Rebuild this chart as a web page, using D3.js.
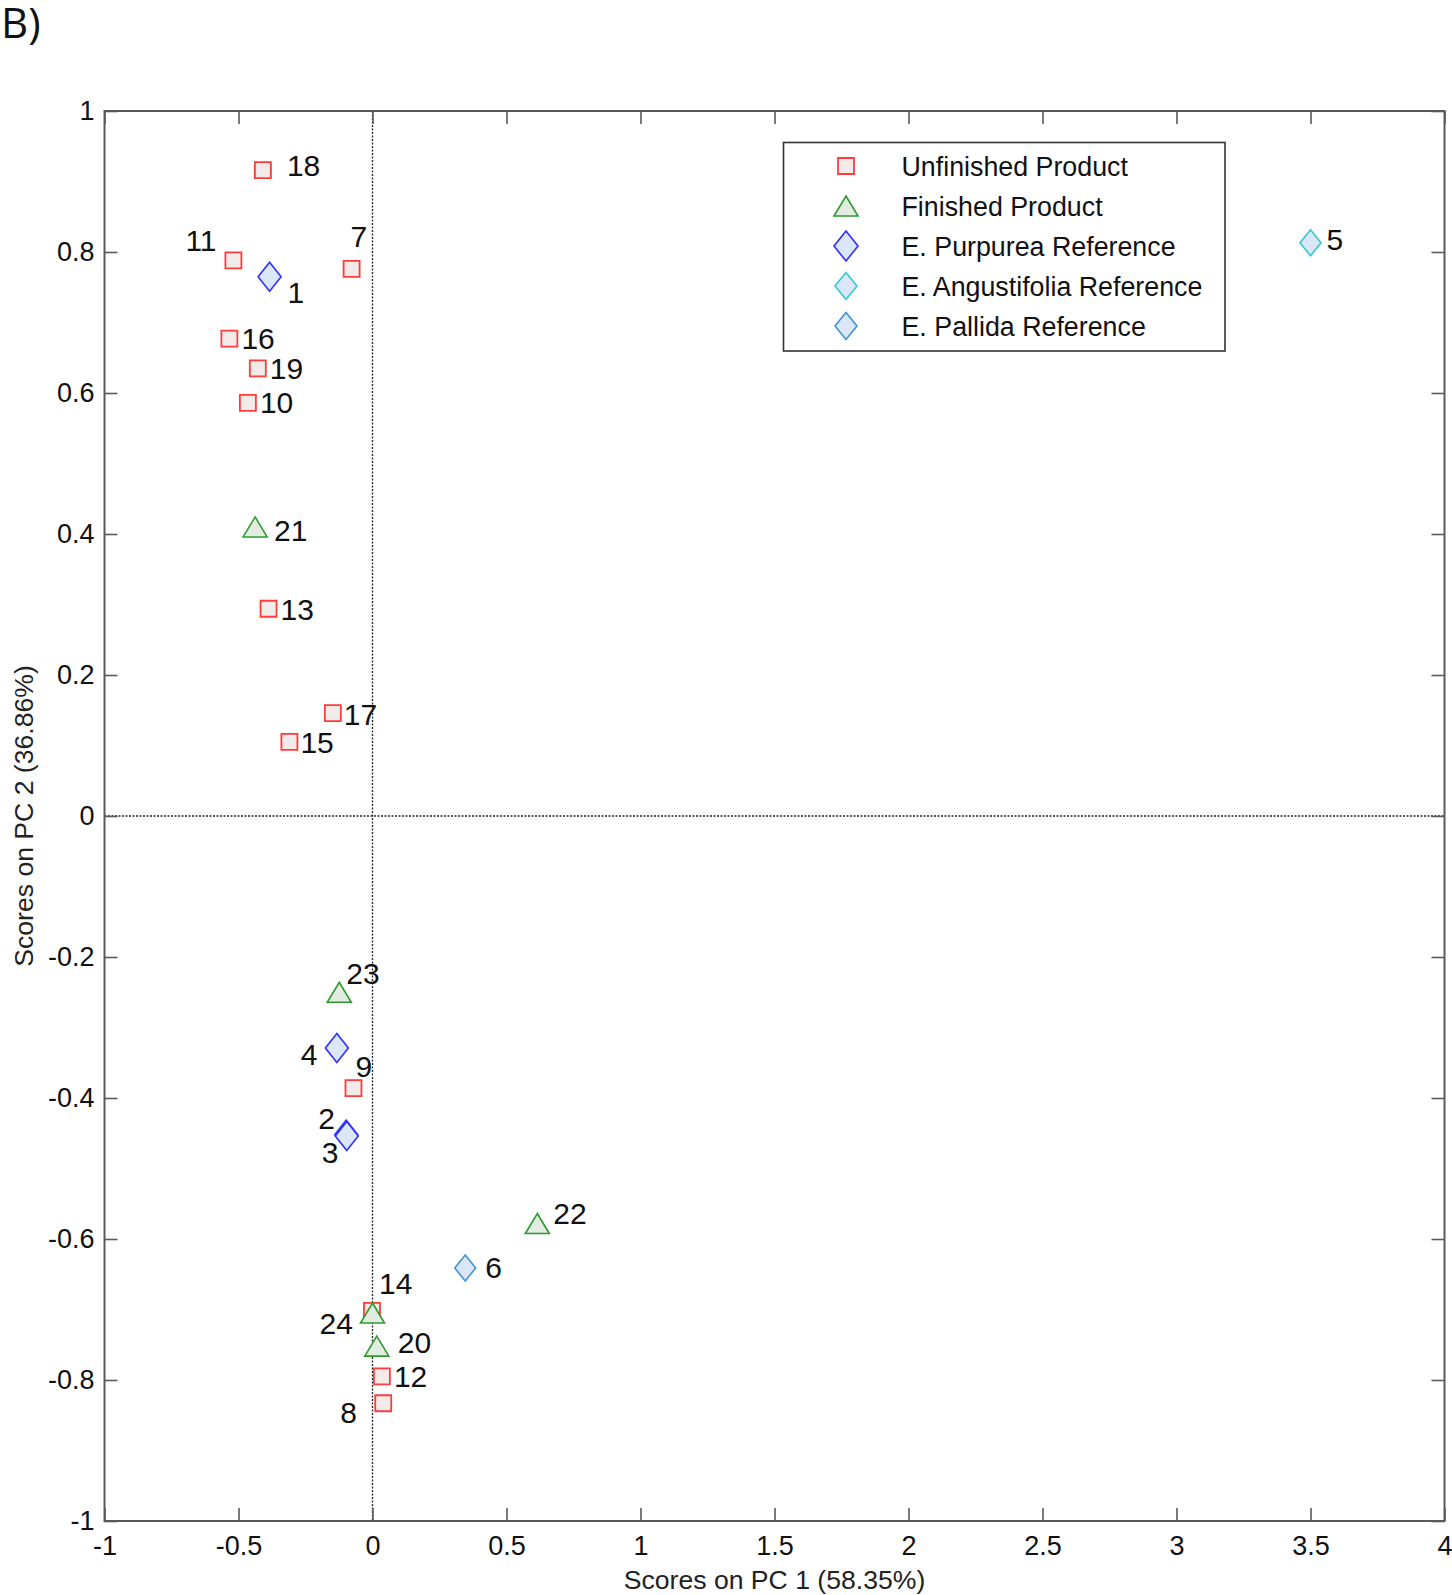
<!DOCTYPE html>
<html>
<head>
<meta charset="utf-8">
<script src="https://cdn.jsdelivr.net/npm/d3@7"></script>
<style>
  html, body { margin: 0; padding: 0; background: #fff; }
  svg { display: block; font-family: "Liberation Sans", Arial, Helvetica, sans-serif; }
</style>
</head>
<body>
<svg id="chart" width="1452" height="1595"></svg>
<script>
// ---------------- data ----------------
const sampleIds = [1, 2, 3, 4, 5, 6, 7, 8, 9, 10, 11, 12, 13, 14, 15, 16, 17, 18, 19, 20, 21, 22, 23, 24];
const pc1Scores = [-0.384, -0.098, -0.096, -0.133, 3.500, 0.346, -0.078, 0.040, -0.071, -0.465, -0.519, 0.035,
                   -0.388, -0.002, -0.310, -0.534, -0.148, -0.409, -0.428, 0.016, -0.438, 0.615, -0.124, 0.000];
const pc2Scores = [0.765, -0.452, -0.454, -0.329, 0.813, -0.641, 0.776, -0.833, -0.386, 0.586, 0.788, -0.795,
                   0.294, -0.702, 0.105, 0.677, 0.146, 0.916, 0.635, -0.752, 0.410, -0.578, -0.250, -0.705];
const sampleGroups = ["purp", "purp", "purp", "purp", "ang", "pal", "unf", "unf", "unf", "unf", "unf", "unf",
                      "unf", "unf", "unf", "unf", "unf", "unf", "unf", "fin", "fin", "fin", "fin", "fin"];
const groupKeys = ["unf", "fin", "purp", "ang", "pal"];
const groupNames = ["Unfinished Product", "Finished Product", "E. Purpurea Reference",
                    "E. Angustifolia Reference", "E. Pallida Reference"];
const xTickValues = [-1, -0.5, 0, 0.5, 1, 1.5, 2, 2.5, 3, 3.5, 4];
const yTickValues = [-1, -0.8, -0.6, -0.4, -0.2, 0, 0.2, 0.4, 0.6, 0.8, 1];
const xTitle = "Scores on PC 1 (58.35%)";
const yTitle = "Scores on PC 2 (36.86%)";
const panelLetter = "B)";

// ---------------- layout / style ----------------
// label offsets (px) relative to each marker, by sample id
const labelOffset = {
  1: [18, 26], 2: [-28, -6], 3: [-25, 27], 4: [-36, 17], 5: [16, 7], 6: [20, 10],
  7: [-1, -22], 8: [-43, 20], 9: [2, -11], 10: [12, 10], 11: [-48, -9], 12: [12, 11],
  13: [12, 11], 14: [7, -17], 15: [11, 11], 16: [12, 10], 17: [11, 12], 18: [24, 6],
  19: [12, 11], 20: [21, 7], 21: [19, 14], 22: [16, 1], 23: [7, -8], 24: [-53, 21]
};
const styles = {
  unf:  { shape: "square",   stroke: "#ff3b3b", fill: "#f3eaea", w: 16, h: 16, sw: 1.8 },
  fin:  { shape: "triangle", stroke: "#2e9a2e", fill: "#e2ece2", w: 24, h: 20, sw: 1.6 },
  purp: { shape: "diamond",  stroke: "#2f2fff", fill: "#dbe6f7", w: 23, h: 29, sw: 1.6 },
  ang:  { shape: "diamond",  stroke: "#35c9d2", fill: "#dbe6f7", w: 21, h: 26, sw: 1.6 },
  pal:  { shape: "diamond",  stroke: "#3f94da", fill: "#dbe6f7", w: 21, h: 26, sw: 1.6 }
};
function shapePath(s) {
  const w = s.w / 2, h = s.h / 2;
  if (s.shape === "square") return `M${-w},${-h}H${w}V${h}H${-w}Z`;
  if (s.shape === "triangle") return `M0,${-h}L${w},${h}L${-w},${h}Z`;
  return `M0,${-h}L${w},0L0,${h}L${-w},0Z`;
}

const svg = d3.select("#chart");
const L = 104.5, R = 1444.5, T = 111, B = 1521;
const x = d3.scaleLinear().domain([-1, 4]).range([L, R]);
const y = d3.scaleLinear().domain([-1, 1]).range([B, T]);
const fmt = d => String(d);
const axisColor = "#5a5a5a";

// panel letter
svg.append("text").attr("x", 1).attr("y", 38)
  .attr("font-family", "'Open Sans', 'Noto Sans', sans-serif")
  .attr("font-size", 42).attr("fill", "#111").text(panelLetter);

// zero lines
svg.append("line").attr("x1", x(0)).attr("x2", x(0)).attr("y1", T).attr("y2", B)
  .attr("stroke", "#222").attr("stroke-width", 1.3).attr("stroke-dasharray", "2,1.5");
svg.append("line").attr("x1", L).attr("x2", R).attr("y1", y(0)).attr("y2", y(0))
  .attr("stroke", "#222").attr("stroke-width", 1.3).attr("stroke-dasharray", "2,1.5");

// axes
function styleAxis(g) {
  g.select(".domain").remove();
  g.selectAll(".tick line").attr("stroke", axisColor).attr("stroke-width", 1.6);
  g.selectAll(".tick text").attr("fill", "#111").attr("font-size", 27)
    .attr("font-family", "'Liberation Sans', Arial, sans-serif");
}
svg.append("g").attr("transform", `translate(0,${B})`)
  .call(d3.axisBottom(x).tickValues(xTickValues).tickFormat(fmt).tickSizeInner(-13).tickSizeOuter(0).tickPadding(15))
  .call(styleAxis);
svg.append("g").attr("transform", `translate(0,${T})`)
  .call(d3.axisTop(x).tickValues(xTickValues).tickFormat("").tickSizeInner(-13).tickSizeOuter(0))
  .call(styleAxis);
svg.append("g").attr("transform", `translate(${L},0)`)
  .call(d3.axisLeft(y).tickValues(yTickValues).tickFormat(fmt).tickSizeInner(-13).tickSizeOuter(0).tickPadding(10))
  .call(styleAxis);
svg.append("g").attr("transform", `translate(${R},0)`)
  .call(d3.axisRight(y).tickValues(yTickValues).tickFormat("").tickSizeInner(-13).tickSizeOuter(0))
  .call(styleAxis);

// frame
svg.append("rect").attr("x", L).attr("y", T).attr("width", R - L).attr("height", B - T)
  .attr("fill", "none").attr("stroke", axisColor).attr("stroke-width", 2);

// axis titles
svg.append("text").attr("x", (L + R) / 2).attr("y", 1589).attr("text-anchor", "middle")
  .attr("font-size", 26.6).attr("fill", "#222").text(xTitle);
svg.append("text").attr("transform", `translate(33,${(T + B) / 2}) rotate(-90)`).attr("text-anchor", "middle")
  .attr("font-size", 26.6).attr("fill", "#222").text(yTitle);

// points, drawn group by group
const points = sampleIds.map((id, i) => ({ id, px: pc1Scores[i], py: pc2Scores[i], g: sampleGroups[i] }));
groupKeys.forEach(k => {
  const s = styles[k];
  svg.append("g").selectAll("path").data(points.filter(p => p.g === k)).join("path")
    .attr("transform", d => `translate(${x(d.px)},${y(d.py)})`)
    .attr("d", shapePath(s)).attr("fill", s.fill).attr("stroke", s.stroke).attr("stroke-width", s.sw);
});

// point labels
svg.append("g").selectAll("text").data(points).join("text")
  .attr("x", d => x(d.px) + labelOffset[d.id][0])
  .attr("y", d => y(d.py) + labelOffset[d.id][1])
  .attr("font-size", 30).attr("fill", "#111").text(d => d.id);

// legend
const lg = svg.append("g");
lg.append("rect").attr("x", 783.5).attr("y", 142.5).attr("width", 441.5).attr("height", 208.5)
  .attr("fill", "#fff").attr("stroke", "#333").attr("stroke-width", 1.6);
const legendY = d3.scalePoint().domain(groupKeys).range([166, 326]);
groupKeys.forEach((k, i) => {
  const s = styles[k];
  const ls = Object.assign({}, s, k === "ang" || k === "pal" ? { w: 22, h: 27 } : (k === "purp" ? { w: 24, h: 30 } : {}));
  lg.append("path").attr("transform", `translate(846,${legendY(k)})`)
    .attr("d", shapePath(ls)).attr("fill", s.fill).attr("stroke", s.stroke).attr("stroke-width", s.sw);
  lg.append("text").attr("x", 901.5).attr("y", legendY(k) + 9.5).attr("font-size", 26.8).attr("fill", "#111")
    .text(groupNames[i]);
});
</script>
</body>
</html>
